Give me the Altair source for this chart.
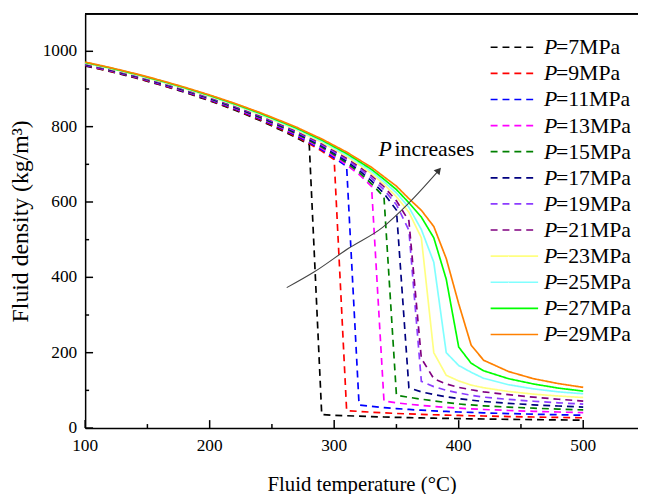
import altair as alt
import pandas as pd

# ---------------- data ----------------
temps = [100, 120, 140, 160, 180, 200, 220, 240, 260, 270, 280, 290, 300, 310, 320,
         330, 340, 350, 360, 370, 380, 390, 400, 410, 420, 440, 460, 480, 500]

rho_7 = [961.5, 946.5, 929.7, 911.2, 891.0, 868.7, 844.3, 817.1, 786.5, 770.2, 751.8, 35.6, 33.9, 32.6, 31.5,
         30.3, 29.3, 28.4, 27.6, 26.9, 26.2, 25.6, 25.0, 24.5, 24.0, 23.1, 22.3, 21.5, 20.8]
rho_9 = [962.4, 947.5, 930.8, 912.3, 892.3, 870.2, 846.0, 819.2, 789.0, 772.8, 754.6, 735.0, 713.0, 46.3, 44.0,
         42.0, 40.3, 38.7, 37.4, 36.2, 35.2, 34.3, 33.4, 32.6, 31.9, 30.5, 29.2, 28.1, 27.2]
rho_11 = [963.4, 948.5, 931.8, 913.5, 893.5, 871.6, 847.6, 821.2, 791.5, 775.6, 757.6, 738.7, 717.3, 694.2, 61.0,
          57.5, 54.3, 51.6, 49.3, 47.3, 45.6, 44.0, 42.6, 41.4, 40.3, 38.4, 36.7, 35.3, 33.9]
rho_13 = [964.3, 949.4, 932.9, 914.6, 894.8, 873.1, 849.3, 823.1, 793.8, 778.2, 760.6, 742.2, 721.4, 698.7, 673.0,
          641.5, 71.5, 67.0, 63.1, 60.0, 57.3, 54.9, 52.7, 50.9, 49.2, 46.6, 44.4, 42.5, 40.8]
rho_15 = [965.2, 950.4, 933.9, 915.8, 896.1, 874.5, 850.9, 825.0, 796.2, 780.9, 763.6, 745.8, 725.5, 703.6, 678.7,
          648.4, 613.1, 87.1, 81.5, 76.5, 72.1, 67.8, 63.8, 61.3, 59.0, 55.6, 52.7, 50.2, 48.0]
rho_17 = [966.1, 951.4, 934.9, 916.9, 897.3, 875.9, 852.5, 826.9, 798.4, 783.4, 766.4, 749.0, 729.2, 708.1, 684.0,
          655.9, 622.7, 578.5, 107.0, 96.0, 89.0, 83.0, 78.0, 74.0, 70.5, 65.5, 61.5, 58.4, 55.7]
rho_19 = [967.0, 952.3, 935.9, 918.0, 898.5, 877.3, 854.1, 828.8, 800.7, 785.9, 769.1, 752.2, 732.9, 712.6, 689.3,
          663.4, 632.4, 593.0, 525.0, 124.0, 110.0, 100.0, 93.0, 87.0, 82.0, 76.0, 71.0, 67.0, 63.6]
rho_21 = [967.8, 953.3, 936.9, 919.1, 899.7, 878.7, 855.7, 830.6, 802.9, 788.4, 771.9, 755.4, 736.4, 716.8, 694.2,
          669.9, 640.5, 603.0, 550.0, 185.0, 131.0, 117.0, 108.0, 101.5, 96.0, 88.5, 82.0, 76.5, 71.5]
rho_23 = [968.7, 954.2, 937.9, 920.2, 900.9, 880.0, 857.3, 832.5, 805.1, 790.9, 774.6, 758.4, 739.8, 720.8, 698.7,
          675.4, 647.1, 614.0, 573.0, 505.0, 200.0, 140.0, 125.0, 114.0, 107.0, 97.0, 90.0, 85.0, 81.0]
rho_25 = [969.6, 955.1, 938.9, 921.3, 902.1, 881.4, 858.9, 834.3, 807.3, 793.3, 777.3, 761.5, 743.2, 724.7, 703.2,
          681.0, 653.8, 624.0, 586.0, 527.0, 440.0, 200.0, 166.0, 148.0, 132.0, 115.0, 104.0, 96.0, 91.0]
rho_27 = [970.5, 956.0, 939.9, 922.4, 903.3, 882.8, 860.4, 836.1, 809.5, 795.7, 779.9, 764.5, 746.6, 728.7, 707.7,
          686.6, 660.4, 633.0, 598.0, 560.0, 505.0, 395.0, 215.0, 172.0, 152.0, 131.0, 117.0, 106.0, 98.0]
rho_29 = [971.4, 956.9, 940.9, 923.5, 904.5, 884.1, 862.0, 838.0, 811.7, 798.2, 782.6, 767.5, 750.0, 732.6, 712.2,
          692.1, 667.0, 642.0, 609.0, 578.0, 535.0, 450.0, 330.0, 220.0, 180.0, 150.0, 131.0, 118.0, 108.0]

pressures = [7, 9, 11, 13, 15, 17, 19, 21, 23, 25, 27, 29]
series_rho = [rho_7, rho_9, rho_11, rho_13, rho_15, rho_17, rho_19, rho_21, rho_23, rho_25, rho_27, rho_29]
line_styles = ["dash"] * 8 + ["solid"] * 4
colors = ["#000000", "#FF0000", "#0000FF", "#FF00FF", "#008000", "#000080",
          "#8C3CFF", "#800080", "#FFFF80", "#80FFFF", "#00FF00", "#FF8000"]
labels = ["=%dMPa" % p for p in pressures]

x_major = [100, 200, 300, 400, 500]
x_minor = [150, 250, 350, 450]
y_major = [0, 200, 400, 600, 800, 1000]
y_minor = [100, 300, 500, 700, 900]
x_tick_labels = ["100", "200", "300", "400", "500"]
y_tick_labels = ["0", "200", "400", "600", "800", "1000"]

# annotation arrow "P increases" (data coordinates)
arrow_T = [261.9, 284.1, 311.9, 338.9, 359.5, 384.0]
arrow_rho = [372.7, 414.7, 477.7, 532.8, 595.8, 684.0]

# ---------------- frames ----------------
rows = []
for p, lab, sty, rh in zip(pressures, labels, line_styles, series_rho):
    for t, r in zip(temps, rh):
        rows.append({"T": t, "rho": r, "series": lab, "style": sty, "P": p})
df = pd.DataFrame(rows)

W, H = 559, 419
FONT = "Liberation Serif"

xscale = alt.Scale(domain=[100, 544], nice=False, zero=False)
yscale = alt.Scale(domain=[0, 1100], nice=False, zero=False)
cscale = alt.Scale(domain=labels, range=colors)
dscale = alt.Scale(domain=["dash", "solid"], range=[[7, 5], [1, 0]])

xaxis = alt.Axis(orient="bottom", values=x_major, ticks=False, tickSize=0, labels=False,
                 title="Fluid temperature (°C)", titlePadding=46,
                 titleFont=FONT, titleFontSize=21, titleFontWeight="normal", titleColor="black",
                 domainColor="black", domainWidth=1.5, grid=False)
yaxis = alt.Axis(orient="left", values=y_major, ticks=False, tickSize=0, labels=False,
                 title="Fluid density (kg/m³)", titlePadding=53,
                 titleFont=FONT, titleFontSize=24, titleFontWeight="normal", titleColor="black",
                 domainColor="black", domainWidth=1.5, grid=False)


def X(field="T"):
    return alt.X(field + ":Q", scale=xscale, axis=xaxis)


def Y(field="rho"):
    return alt.Y(field + ":Q", scale=yscale, axis=yaxis)


lines = alt.Chart(df).mark_line(strokeWidth=1.7, clip=True).encode(
    x=X(), y=Y(),
    color=alt.Color("series:N", scale=cscale, legend=None),
    strokeDash=alt.StrokeDash("style:N", scale=dscale, legend=None),
    order=alt.Order("T:Q"),
)

# inward tick marks (drawn as rules on the data scales)
xt_major_df = pd.DataFrame({"T": x_major, "lab": x_tick_labels})
xt_minor_df = pd.DataFrame({"T": x_minor})
yt_major_df = pd.DataFrame({"rho": y_major, "lab": y_tick_labels})
yt_minor_df = pd.DataFrame({"rho": y_minor})
x_ticks_major = alt.Chart(xt_major_df).mark_rule(color="black", strokeWidth=1.5).encode(
    x=X(), y=alt.value(H), y2=alt.value(H - 8))
x_ticks_minor = alt.Chart(xt_minor_df).mark_rule(color="black", strokeWidth=1.5).encode(
    x=X(), y=alt.value(H), y2=alt.value(H - 4))
y_ticks_major = alt.Chart(yt_major_df).mark_rule(color="black", strokeWidth=1.5).encode(
    y=Y(), x=alt.value(0), x2=alt.value(8))
y_ticks_minor = alt.Chart(yt_minor_df).mark_rule(color="black", strokeWidth=1.5).encode(
    y=Y(), x=alt.value(0), x2=alt.value(4))

# tick labels (serif text placed through the scales)
x_tick_text = alt.Chart(xt_major_df).mark_text(font=FONT, fontSize=17.5, align="center", baseline="top",
                                              color="black").encode(
    x=X(), y=alt.value(H + 9), text="lab:N")
y_tick_text = alt.Chart(yt_major_df).mark_text(font=FONT, fontSize=17.5, align="right", baseline="middle",
                                              color="black").encode(
    y=Y(), x=alt.value(-8), text="lab:N")

top_frame = alt.Chart(xt_minor_df).mark_rule(color="black", strokeWidth=1.5).encode(
    x=alt.value(0), x2=alt.value(W), y=alt.value(0)
)

arrow_df = pd.DataFrame({"T": arrow_T, "rho": arrow_rho})
arrow_line = alt.Chart(arrow_df).mark_line(color="#444444", strokeWidth=1.1, interpolate="monotone").encode(
    x=X(), y=Y())
head_df = pd.DataFrame({"T": [arrow_T[-1]], "rho": [arrow_rho[-1]]})
arrow_head = alt.Chart(head_df).mark_point(shape="triangle-up", filled=True, size=60, angle=41,
                                           color="#333333", opacity=1).encode(x=X(), y=Y())
ann_p_df = pd.DataFrame({"T": [335.5], "rho": [722.0], "txt": ["P"]})
ann_r_df = pd.DataFrame({"T": [348.5], "rho": [722.0], "txt": ["increases"]})
ann_p = alt.Chart(ann_p_df).mark_text(font=FONT, fontSize=22, fontStyle="italic", align="left",
                                     baseline="alphabetic", color="black").encode(
    x=X(), y=Y(), text="txt:N")
ann_rest = alt.Chart(ann_r_df).mark_text(font=FONT, fontSize=22, align="left",
                                        baseline="alphabetic", color="black").encode(
    x=X(), y=Y(), text="txt:N")

# ---------------- legend (manual, to get italic P) ----------------
leg_df = pd.DataFrame({"series": labels, "style": line_styles,
                       "ly": [34 + i * 26.4 for i in range(len(labels))]})
leg_lines = alt.Chart(leg_df).mark_rule(strokeWidth=1.7).encode(
    x=alt.value(410), x2=alt.value(458),
    y=alt.Y("ly:Q", scale=None),
    color=alt.Color("series:N", scale=cscale, legend=None),
    strokeDash=alt.StrokeDash("style:N", scale=dscale, legend=None),
)
leg_p = alt.Chart(leg_df).mark_text(text="P", font=FONT, fontSize=22, fontStyle="italic", align="left",
                                    baseline="middle", color="black").encode(
    x=alt.value(464), y=alt.Y("ly:Q", scale=None))
leg_txt = alt.Chart(leg_df).mark_text(font=FONT, fontSize=22, align="left", baseline="middle",
                                      color="black").encode(
    x=alt.value(476), y=alt.Y("ly:Q", scale=None), text="series:N")

chart = alt.layer(
    lines, x_ticks_major, x_ticks_minor, y_ticks_major, y_ticks_minor, x_tick_text, y_tick_text,
    top_frame, arrow_line, arrow_head, ann_p, ann_rest, leg_lines, leg_p, leg_txt
).properties(
    width=W, height=H,
    autosize=alt.AutoSizeParams(type="none"),
    padding={"left": 78, "top": 3, "right": 0, "bottom": 64},
    background="white",
).configure_view(stroke=None).configure_axis(
    titleFont=FONT,
)

chart.save("out.html", embed_options={"renderer": "svg", "actions": False})
